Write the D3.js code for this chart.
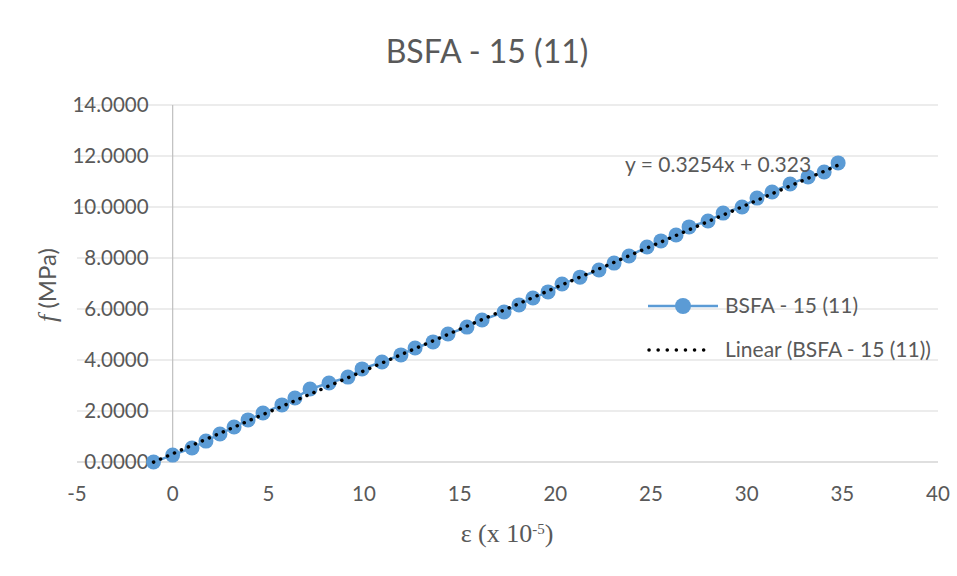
<!DOCTYPE html>
<html>
<head>
<meta charset="utf-8">
<script src="https://cdn.jsdelivr.net/npm/d3@7"></script>
<style>
  body { margin: 0; background: #fff; }
  svg text { font-family: Lato, "Noto Sans", sans-serif; fill: #595959; }
</style>
</head>
<body>
<div id="chart"></div>
<script>
// strain readings (x 10^-5) and stress (MPa) for BSFA - 15 (11)
const strain = [-1.0, 0.0, 1.01, 1.74, 2.47, 3.21, 3.94, 4.72, 5.71, 6.39,
    7.18, 8.17, 9.16, 9.90, 10.94, 11.93, 12.67, 13.61, 14.39, 15.38,
    16.17, 17.32, 18.10, 18.83, 19.62, 20.35, 21.29, 22.28, 23.07, 23.85,
    24.79, 25.52, 26.31, 26.99, 27.98, 28.77, 29.76, 30.54, 31.33, 32.27,
    33.21, 34.05, 34.78];
const stress = [0.0, 0.27, 0.55, 0.82, 1.10, 1.37, 1.65, 1.92, 2.24, 2.51,
    2.86, 3.10, 3.33, 3.65, 3.92, 4.20, 4.47, 4.71, 5.02, 5.29,
    5.57, 5.88, 6.16, 6.43, 6.67, 6.98, 7.25, 7.53, 7.80, 8.08,
    8.43, 8.67, 8.90, 9.22, 9.45, 9.76, 10.00, 10.35, 10.59, 10.90,
    11.18, 11.37, 11.73];

const xTicks = [-5, 0, 5, 10, 15, 20, 25, 30, 35, 40];
const yTicks = [0, 2, 4, 6, 8, 10, 12, 14];

const slope = 0.3254;
const intercept = 0.323;

const seriesName = "BSFA - 15 (11)";
const trendName = "Linear (BSFA - 15 (11))";
const equationText = "y = 0.3254x + 0.323";

const width = 957, height = 576;
const blue = "#5b9bd5";

const svg = d3.select("#chart").append("svg")
    .attr("width", width)
    .attr("height", height);

const x = d3.scaleLinear().domain([-5, 40]).range([77, 938]);
const y = d3.scaleLinear().domain([0, 14]).range([462, 105]);

// gridlines
svg.append("g")
    .selectAll("line")
    .data(yTicks.filter(d => d !== 0))
    .enter()
    .append("line")
    .attr("x1", x(-5))
    .attr("x2", x(40))
    .attr("y1", d => y(d))
    .attr("y2", d => y(d))
    .style("stroke", "#d9d9d9")
    .style("stroke-width", 1);

// axes lines (y axis crosses at x = 0)
svg.append("line")
    .attr("x1", x(-5)).attr("x2", x(40))
    .attr("y1", y(0)).attr("y2", y(0))
    .style("stroke", "#bfbfbf").style("stroke-width", 1.2);

svg.append("line")
    .attr("x1", x(0)).attr("x2", x(0))
    .attr("y1", y(0)).attr("y2", y(14))
    .style("stroke", "#bfbfbf").style("stroke-width", 1.2);

// tick labels
svg.append("g")
    .selectAll("text")
    .data(yTicks)
    .enter()
    .append("text")
    .attr("x", x(0) - 24)
    .attr("y", d => y(d))
    .attr("dy", "0.35em")
    .style("text-anchor", "end")
    .style("font-size", "20.5px")
    .text(d => d.toFixed(4));

svg.append("g")
    .selectAll("text")
    .data(xTicks)
    .enter()
    .append("text")
    .attr("x", d => x(d))
    .attr("y", 494)
    .attr("dy", "0.35em")
    .style("text-anchor", "middle")
    .style("font-size", "20.5px")
    .text(d => d);

// title
svg.append("text")
    .attr("x", 487)
    .attr("y", 52)
    .attr("dy", "0.35em")
    .style("text-anchor", "middle")
    .style("font-size", "32px")
    .text(seriesName);

// axis titles
const xTitle = svg.append("text")
    .attr("x", 507)
    .attr("y", 542)
    .style("text-anchor", "middle")
    .style("font-family", "'Liberation Serif', 'Times New Roman', serif")
    .style("font-size", "26px");
xTitle.append("tspan").text("ε (x 10");
xTitle.append("tspan")
    .attr("baseline-shift", "super")
    .style("font-size", "15px")
    .text("-5");
xTitle.append("tspan").text(")");

const yTitle = svg.append("text")
    .attr("transform", "translate(48,285) rotate(-90)")
    .attr("dy", "0.35em")
    .style("text-anchor", "middle")
    .style("font-size", "24px");
yTitle.append("tspan")
    .style("font-family", "'Liberation Serif', 'Times New Roman', serif")
    .style("font-style", "italic")
    .style("font-size", "26px")
    .text("f");
yTitle.append("tspan").text(" (MPa)");

// series line + markers
const pts = strain.map((d, i) => [d, stress[i]]);

const line = d3.line()
    .x(d => x(d[0]))
    .y(d => y(d[1]));

svg.append("path")
    .datum(pts)
    .attr("d", line)
    .style("fill", "none")
    .style("stroke", blue)
    .style("stroke-width", 2.5);

svg.append("g")
    .selectAll("circle")
    .data(pts)
    .enter()
    .append("circle")
    .attr("cx", d => x(d[0]))
    .attr("cy", d => y(d[1]))
    .attr("r", 7.5)
    .style("fill", blue);

// linear trendline
const xMin = d3.min(strain), xMax = d3.max(strain);
svg.append("line")
    .attr("x1", x(xMin)).attr("y1", y(slope * xMin + intercept))
    .attr("x2", x(xMax)).attr("y2", y(slope * xMax + intercept))
    .style("stroke", "#000")
    .style("stroke-width", 3.5)
    .style("stroke-linecap", "round")
    .style("stroke-dasharray", "0.1 7.5");

// equation label
svg.append("text")
    .attr("x", 625)
    .attr("y", 165)
    .attr("dy", "0.35em")
    .style("font-size", "21px")
    .text(equationText);

// legend
const legend = svg.append("g");
legend.append("line")
    .attr("x1", 648).attr("x2", 718)
    .attr("y1", 306).attr("y2", 306)
    .style("stroke", blue).style("stroke-width", 2.5);
legend.append("circle")
    .attr("cx", 683).attr("cy", 306).attr("r", 8)
    .style("fill", blue);
legend.append("text")
    .attr("x", 725).attr("y", 306).attr("dy", "0.35em")
    .style("font-size", "21px")
    .text(seriesName);

legend.append("line")
    .attr("x1", 649).attr("x2", 712)
    .attr("y1", 350).attr("y2", 350)
    .style("stroke", "#000").style("stroke-width", 3.5)
    .style("stroke-linecap", "round")
    .style("stroke-dasharray", "0.1 9");
legend.append("text")
    .attr("x", 725).attr("y", 350).attr("dy", "0.35em")
    .style("font-size", "21px")
    .text(trendName);
</script>
</body>
</html>
